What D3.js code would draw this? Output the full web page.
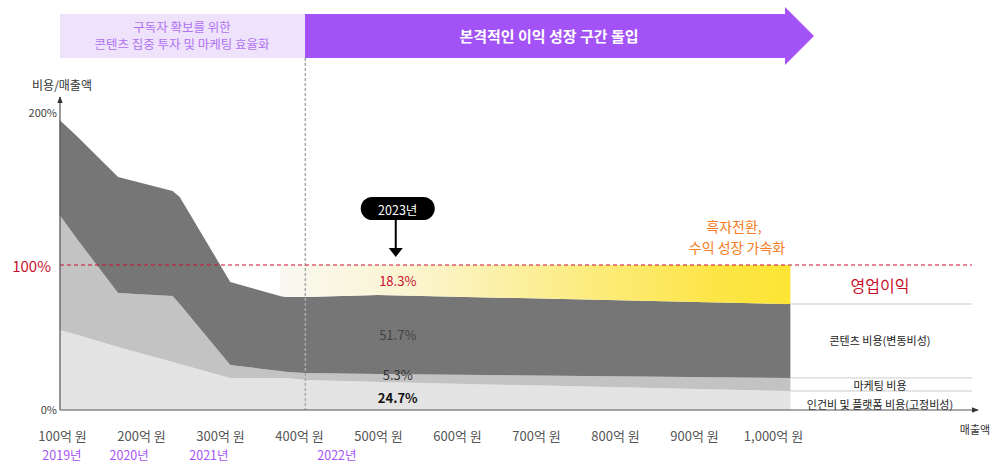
<!DOCTYPE html>
<html>
<head>
<meta charset="utf-8">
<script src="https://cdn.jsdelivr.net/npm/d3@7"></script>
<style>
  body { margin: 0; background: #fff; }
  svg { font-family: "Noto Sans CJK KR", "Noto Sans", sans-serif; }
</style>
</head>
<body>
<div id="chart"></div>
<script>
// revenue points (억 원) where the cost structure changes
var revenue = [97, 120, 171, 240, 249, 313, 376, 385, 408, 500, 1022];
// cumulative tops of each cost layer, % of revenue
var personnelTop = [55.2, 51.7, 43.4, 33.1, 31.7, 22.1, 22.1, 22.1, 20.7, 19.3, 13.1];
var marketingTop = [134.5, 117.2, 80.7, 78.6, 73.1, 31.0, 26.9, 26.2, 25.5, 24.8, 22.1];
var contentTop = [200, 188.3, 160.7, 151.0, 146.9, 88.3, 78.6, 77.9, 77.9, 79.3, 73.1];
var profitStart = 376;

var xTicks = [100, 200, 300, 400, 500, 600, 700, 800, 900, 1000];
var xTickLabels = ["100억 원", "200억 원", "300억 원", "400억 원", "500억 원", "600억 원", "700억 원", "800억 원", "900억 원", "1,000억 원"];
var years = [{ label: "2019년", v: 100 }, { label: "2020년", v: 185 }, { label: "2021년", v: 286 }, { label: "2022년", v: 448 }];
var line2022 = 408;

var shares2023 = [
  { label: "18.3%", v: 89, color: "#c8102e", weight: 400 },
  { label: "51.7%", v: 52, color: "#444", weight: 400 },
  { label: "5.3%", v: 24.5, color: "#333", weight: 400 },
  { label: "24.7%", v: 8.5, color: "#111", weight: 700 }
];
var legendRows = [
  { label: "영업이익", v: 86.5, size: 16, color: "#c8102e" },
  { label: "콘텐츠 비용(변동비성)", v: 48.5, size: 11, color: "#222" },
  { label: "마케팅 비용", v: 17.3, size: 11, color: "#222" },
  { label: "인건비 및 플랫폼 비용(고정비성)", v: 4.2, size: 11, color: "#222" }
];
var legendLines = [73.1, 22.1, 13.1];

var svg = d3.select("#chart").append("svg")
  .attr("width", 1008)
  .attr("height", 464);

var x = d3.scaleLinear().domain([100, 1000]).range([62, 773]);
var y = d3.scaleLinear().domain([0, 200]).range([410, 120]);

var defs = svg.append("defs");
var grad = defs.append("linearGradient")
  .attr("id", "profitGrad")
  .attr("gradientUnits", "userSpaceOnUse")
  .attr("x1", x(profitStart)).attr("x2", x(1022))
  .attr("y1", 0).attr("y2", 0);
grad.append("stop").attr("offset", "0%").attr("stop-color", "#f9f8f1");
grad.append("stop").attr("offset", "25%").attr("stop-color", "#fbf5d2");
grad.append("stop").attr("offset", "60%").attr("stop-color", "#fcec80");
grad.append("stop").attr("offset", "85%").attr("stop-color", "#fde547");
grad.append("stop").attr("offset", "100%").attr("stop-color", "#fde535");

// tiny dot texture over the grey layers
var pat = defs.append("pattern")
  .attr("id", "dots")
  .attr("patternUnits", "userSpaceOnUse")
  .attr("width", 4).attr("height", 4);
pat.append("circle").attr("cx", 1).attr("cy", 1).attr("r", 0.7)
  .attr("fill", "#fff").attr("opacity", 0.07);
pat.append("circle").attr("cx", 3).attr("cy", 3).attr("r", 0.7)
  .attr("fill", "#fff").attr("opacity", 0.07);

// top banners
svg.append("rect")
  .attr("x", 60).attr("y", 14).attr("width", 245).attr("height", 44)
  .attr("fill", "#efe3fb");
svg.append("text")
  .attr("x", 182).attr("y", 32)
  .attr("text-anchor", "middle")
  .attr("font-size", 12.5).attr("fill", "#b072f0")
  .text("구독자 확보를 위한");
svg.append("text")
  .attr("x", 182).attr("y", 49)
  .attr("text-anchor", "middle")
  .attr("font-size", 12.5).attr("fill", "#b072f0")
  .text("콘텐츠 집중 투자 및 마케팅 효율화");

svg.append("path")
  .attr("d", "M305,14 L785,14 L785,7 L814,36 L785,65 L785,58 L305,58 Z")
  .attr("fill", "#a352f5");
svg.append("text")
  .attr("x", 549).attr("y", 42)
  .attr("text-anchor", "middle")
  .attr("font-size", 15).attr("font-weight", 700).attr("fill", "#fff")
  .text("본격적인 이익 성장 구간 돌입");

// stacked areas
var rows = revenue.map(function (v, i) {
  return { v: v, p: personnelTop[i], m: marketingTop[i], c: contentTop[i] };
});

var layers = [
  { lo: function () { return 0; }, hi: function (d) { return d.p; }, fill: "#e3e3e3" },
  { lo: function (d) { return d.p; }, hi: function (d) { return d.m; }, fill: "#c2c2c2" },
  { lo: function (d) { return d.m; }, hi: function (d) { return d.c; }, fill: "#747474" }
];

layers.forEach(function (l) {
  var area = d3.area()
    .x(function (d) { return x(d.v); })
    .y0(function (d) { return y(l.lo(d)); })
    .y1(function (d) { return y(l.hi(d)); });
  svg.append("path").datum(rows).attr("d", area).attr("fill", l.fill);
  svg.append("path").datum(rows).attr("d", area).attr("fill", "url(#dots)");
});

var profitArea = d3.area()
  .x(function (d) { return x(d.v); })
  .y0(function (d) { return y(d.c); })
  .y1(function () { return y(100); });
svg.append("path")
  .datum(rows.filter(function (d) { return d.v >= profitStart; }))
  .attr("d", profitArea)
  .attr("fill", "url(#profitGrad)");

// 2022 divider
svg.append("line")
  .attr("x1", x(line2022)).attr("x2", x(line2022))
  .attr("y1", 58).attr("y2", 410)
  .attr("stroke", "#aaa").attr("stroke-width", 1.5)
  .attr("stroke-dasharray", "3,2");

// 100% line
svg.append("line")
  .attr("x1", 60).attr("x2", 972)
  .attr("y1", y(100)).attr("y2", y(100))
  .attr("stroke", "#c8102e").attr("stroke-width", 1)
  .attr("stroke-dasharray", "4,3");

// right side legend separators
legendLines.forEach(function (v) {
  svg.append("line")
    .attr("x1", x(1022)).attr("x2", 972)
    .attr("y1", y(v)).attr("y2", y(v))
    .attr("stroke", "#999").attr("stroke-width", 1)
    .attr("stroke-dasharray", "1,1");
});
legendRows.forEach(function (r) {
  svg.append("text")
    .attr("x", 880).attr("y", y(r.v))
    .attr("text-anchor", "middle")
    .attr("dominant-baseline", "central")
    .attr("font-size", r.size).attr("fill", r.color)
    .text(r.label);
});

// axes
svg.append("defs").html(
  '<marker id="arr" viewBox="0 0 10 10" refX="9" refY="5" markerWidth="6" markerHeight="6" orient="auto">' +
  '<path d="M0,1 L10,5 L0,9 Z" fill="#333"/></marker>');
svg.append("line")
  .attr("x1", 60).attr("x2", 60).attr("y1", 410).attr("y2", 97)
  .attr("stroke", "#555").attr("stroke-width", 1.2)
  .attr("marker-end", "url(#arr)");
svg.append("line")
  .attr("x1", 60).attr("x2", 978).attr("y1", 410).attr("y2", 410)
  .attr("stroke", "#555").attr("stroke-width", 1.2)
  .attr("marker-end", "url(#arr)");

var xAxis = svg.append("g")
  .attr("transform", "translate(0, 410)")
  .call(d3.axisBottom(x).tickValues(xTicks).tickSize(0)
    .tickFormat(function (d, i) { return xTickLabels[i]; }));
xAxis.select(".domain").remove();
xAxis.selectAll("text")
  .attr("y", 22)
  .attr("font-family", "\"Noto Sans CJK KR\", sans-serif")
  .attr("font-size", 13).attr("fill", "#555");

svg.selectAll(".year")
  .data(years)
  .enter()
  .append("text")
  .attr("class", "year")
  .attr("x", function (d) { return x(d.v); })
  .attr("y", 454)
  .attr("text-anchor", "middle")
  .attr("dominant-baseline", "central")
  .attr("font-size", 12.5).attr("fill", "#a855f7")
  .text(function (d) { return d.label; });

svg.append("text")
  .attr("x", 62).attr("y", 90)
  .attr("text-anchor", "middle")
  .attr("font-size", 12).attr("fill", "#333")
  .text("비용/매출액");
svg.append("text")
  .attr("x", 57).attr("y", y(200) - 8)
  .attr("text-anchor", "end").attr("dominant-baseline", "central")
  .attr("font-size", 11).attr("fill", "#444")
  .text("200%");
svg.append("text")
  .attr("x", 57).attr("y", y(0) - 1)
  .attr("text-anchor", "end").attr("dominant-baseline", "central")
  .attr("font-size", 11).attr("fill", "#444")
  .text("0%");
svg.append("text")
  .attr("x", 51).attr("y", y(100))
  .attr("text-anchor", "end").attr("dominant-baseline", "central")
  .attr("font-size", 15).attr("fill", "#c8102e")
  .text("100%");
svg.append("text")
  .attr("x", 975).attr("y", 434)
  .attr("text-anchor", "middle")
  .attr("font-size", 11).attr("fill", "#333")
  .text("매출액");

// 2023 callout
var cx = x(525);
svg.append("rect")
  .attr("x", cx - 37).attr("y", 197).attr("width", 74).attr("height", 23)
  .attr("rx", 11.5).attr("fill", "#000");
svg.append("text")
  .attr("x", cx).attr("y", 209)
  .attr("text-anchor", "middle").attr("dominant-baseline", "central")
  .attr("font-size", 12.5).attr("fill", "#fff")
  .text("2023년");
svg.append("line")
  .attr("x1", cx - 2).attr("x2", cx - 2).attr("y1", 220).attr("y2", 249)
  .attr("stroke", "#000").attr("stroke-width", 2);
svg.append("path")
  .attr("d", "M" + (cx - 9) + ",248 L" + (cx + 5) + ",248 L" + (cx - 2) + ",257 Z")
  .attr("fill", "#000");

svg.append("text")
  .attr("x", 734).attr("y", 232)
  .attr("text-anchor", "middle")
  .attr("font-size", 14).attr("fill", "#f57c22")
  .text("흑자전환,");
svg.append("text")
  .attr("x", 737).attr("y", 253)
  .attr("text-anchor", "middle")
  .attr("font-size", 14).attr("fill", "#f57c22")
  .text("수익 성장 가속화");

svg.selectAll(".share")
  .data(shares2023)
  .enter()
  .append("text")
  .attr("class", "share")
  .attr("x", cx)
  .attr("y", function (d) { return y(d.v); })
  .attr("text-anchor", "middle").attr("dominant-baseline", "central")
  .attr("font-size", 13)
  .attr("font-weight", function (d) { return d.weight; })
  .attr("fill", function (d) { return d.color; })
  .text(function (d) { return d.label; });
</script>
</body>
</html>
